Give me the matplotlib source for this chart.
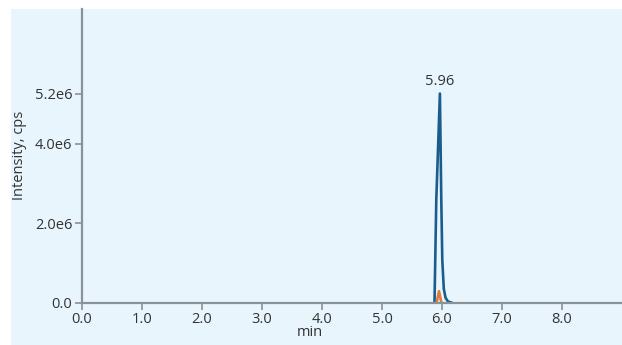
import matplotlib
matplotlib.use("Agg")
import matplotlib.pyplot as plt
from matplotlib.patches import Rectangle

plt.rcParams['font.family'] = ['Open Sans', 'DejaVu Sans']

# Data (retention time in min, intensity in cps)
blue_t = [5.875, 5.905, 5.965, 5.988, 6.005, 6.03, 6.06, 6.10, 6.16]
blue_i = [0, 2.6e6, 5.27e6, 2.6e6, 1.07e6, 0.35e6, 0.12e6, 0.03e6, 0]
orange_t = [5.91, 5.95, 5.99]
orange_i = [0, 0.29e6, 0]
peak_label = "5.96"
peak_t = 5.965
peak_i = 5.27e6
xticks = [0, 1, 2, 3, 4, 5, 6, 7, 8]
xtick_labels = ["0.0", "1.0", "2.0", "3.0", "4.0", "5.0", "6.0", "7.0", "8.0"]
yticks = [0, 2.0e6, 4.0e6, 5.27e6]
ytick_labels = ["0.0", "2.0e6", "4.0e6", "5.2e6"]

W, H = 622, 345
fig = plt.figure(figsize=(W / 100, H / 100), dpi=100)
fig.patch.set_facecolor("white")
bg = "#e8f5fd"
fig.patches.append(Rectangle((11 / W, 0), 1 - 11 / W, (H - 9) / H,
                             transform=fig.transFigure, facecolor=bg,
                             edgecolor="none", zorder=-10))

ax_left, ax_right = 82 / W, 1.0
ax_bottom, ax_top = (H - 302.7) / H, (H - 9) / H
ax = fig.add_axes([ax_left, ax_bottom, ax_right - ax_left, ax_top - ax_bottom])
ax.set_zorder(5)
ax.set_facecolor("none")

blue = "#1a5d8c"
orange = "#e07b39"
ax.plot(blue_t, blue_i, color=blue, lw=1.9, solid_joinstyle="round", zorder=3)
ax.plot(orange_t, orange_i, color=orange, lw=1.9, solid_joinstyle="round", zorder=4)

ax.set_xlim(0, 9.0)
ax.set_ylim(0, 7.4e6)

axis_col = "#8a9298"
text_col = "#333333"
for s in ["top", "right"]:
    ax.spines[s].set_visible(False)
for s in ["left", "bottom"]:
    ax.spines[s].set_color(axis_col)
    ax.spines[s].set_linewidth(1.6)
    ax.spines[s].set_zorder(5)

ax.set_xticks(xticks)
ax.set_xticklabels(xtick_labels)
ax.set_yticks(yticks)
ax.set_yticklabels(ytick_labels)
ax.tick_params(axis="both", colors=axis_col, labelcolor=text_col, length=5,
               width=1.2, labelsize=10.5, pad=2)

ax.text(peak_t, peak_i + 0.12e6, peak_label, ha="center", va="bottom",
        fontsize=10.5, color=text_col)

fig.text(310 / W, 1 - 333 / H, "min", ha="center", va="center",
         fontsize=10.5, color=text_col, zorder=6)
fig.text(20 / W, 1 - 155 / H, "Intensity, cps", ha="center", va="center",
         rotation=90, fontsize=10.5, color=text_col, zorder=6)

fig.savefig("out.png", dpi=100, facecolor="white")
